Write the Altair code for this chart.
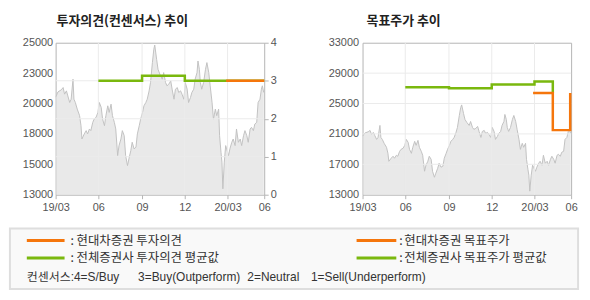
import altair as alt
import pandas as pd

# ---------------- data ----------------
START = "2019-03-02"
END = "2020-05-19"

# days since START and closing price
price_day = [0, 5, 12, 16, 19, 23, 26, 30, 33, 37,
             39, 42, 46, 51, 54, 56, 61, 65, 68, 72,
             75, 79, 82, 86, 90, 93, 97, 100, 104, 107,
             111, 114, 118, 121, 125, 128, 132, 135, 139, 142,
             146, 149, 153, 156, 160, 163, 167, 171, 174, 178,
             181, 185, 188, 192, 195, 199, 202, 206, 209, 211,
             215, 218, 222, 227, 230, 234, 237, 241, 245, 248,
             252, 255, 259, 262, 266, 269, 273, 276, 280, 283,
             287, 290, 294, 297, 301, 303, 306, 308, 311, 315,
             319, 322, 326, 329, 333, 336, 340, 343, 347, 349,
             352, 354, 356, 359, 362, 364, 368, 371, 375, 378,
             382, 385, 389, 393, 396, 400, 403, 407, 410, 414,
             417, 421, 424, 428, 431, 435, 438, 440, 443]
price_value = [20700, 21120, 21280, 21460, 20940, 21200, 20800, 20280, 20540, 22120,
               20540, 20280, 19760, 19240, 18450, 17400, 17800, 18060, 17800, 18190,
               18060, 18710, 18970, 19100, 19500, 20280, 19900, 18970, 18450, 19240,
               20020, 19500, 20150, 19240, 18710, 18190, 16090, 16880, 17400, 18060,
               17660, 16090, 15300, 15830, 16480, 17140, 16620, 16750, 17800, 18450,
               18970, 19500, 20020, 20280, 20540, 21200, 21860, 23430, 24480, 24820,
               23690, 22900, 22510, 22120, 22640, 21860, 21600, 21730, 21990, 21330,
               20540, 21330, 21460, 21070, 21200, 20940, 20540, 21860, 21330, 20280,
               20670, 21070, 21330, 22120, 22640, 23560, 22900, 21860, 21330, 21860,
               22900, 23430, 22640, 21600, 20280, 18970, 19760, 19240, 19760, 17660,
               16350, 15570, 13470, 15570, 16880, 16620, 16090, 16620, 17140, 17400,
               16880, 18190, 17140, 17400, 16880, 17660, 18060, 17660, 17140, 18190,
               18320, 18060, 18580, 18710, 20280, 20540, 21330, 21600, 21070]

tick_dates = ["2019-03-02", "2019-06-01", "2019-09-02", "2019-12-02", "2020-03-02", "2020-05-19"]
tick_labels = ["19/03", "06", "09", "12", "20/03", "06"]
grid_dates = ["2019-06-01", "2019-09-02", "2019-12-02", "2020-03-02"]

opinion_avg_dates = ["2019-06-01", "2019-09-02", "2019-12-02", "2020-05-19"]
opinion_avg_values = [3.0, 3.13, 3.0, 3.0]
opinion_hd_dates = ["2020-02-28", "2020-05-19"]
opinion_hd_values = [3.0, 3.0]

target_avg_dates = ["2019-06-01", "2019-09-02", "2019-12-02", "2020-03-02", "2020-04-10"]
target_avg_values = [27150, 27000, 27500, 27900, 26400]
target_hd_dates = ["2020-02-28", "2020-04-10", "2020-05-17"]
target_hd_values = [26400, 21500, 26400]

left_price_ticks = [13000, 15400, 17800, 20200, 22600, 25000]
opinion_ticks = [0, 1, 2, 3, 4]
opinion_grid = [1, 2, 3]
right_price_ticks = [13000, 17000, 21000, 25000, 29000, 33000]
right_price_grid = [17000, 21000, 25000, 29000]

title_left = "투자의견(컨센서스) 추이"
title_right = "목표주가 추이"
legend_labels = ["현대차증권 투자의견", "전체증권사 투자의견 평균값",
                 "현대차증권 목표주가", "전체증권사 목표주가 평균값"]
consensus_parts = ["컨센서스:4=S/Buy", "3=Buy(Outperform)", "2=Neutral", "1=Sell(Underperform)"]

# ---------------- style ----------------
ORANGE = "#f5760c"
GREEN = "#7ab80e"
AREA = "#e0e0e0"
AREA_LINE = "#c2c2c2"
GRID = "#ebebeb"
FRAME = "#b4b4b4"
LABEL = "#555555"
TEXT = "#333333"
NUM_FONT = "Liberation Sans"
KR_FONT = "Noto Sans CJK KR"
MIX_FONT = "Liberation Sans, Noto Sans CJK KR"
W, H = 210, 153


def dt(s):
    t = pd.Timestamp(s)
    return alt.DateTime(year=t.year, month=t.month, date=t.day)


def dates(lst):
    return pd.to_datetime(lst)


label_expr = ("[" + ",".join(f"'{l}'" for l in tick_labels) + "][indexof(["
              + ",".join(f"'{d}'" for d in tick_dates)
              + "], timeFormat(datum.value, '%Y-%m-%d'))]")

X = alt.X("date:T", scale=alt.Scale(domain=[dt(START), dt(END)]),
          axis=alt.Axis(values=[dt(d) for d in tick_dates], labelExpr=label_expr,
                        title=None, grid=False, domain=False, ticks=True, tickSize=4,
                        tickColor=FRAME, labelPadding=3, labelFlush=False,
                        labelOverlap=False, labelColor=LABEL, labelFont=NUM_FONT,
                        labelFontSize=11))

price_df = pd.DataFrame({"date": pd.Timestamp(START) + pd.to_timedelta(price_day, unit="D"),
                         "price": price_value})
vgrid_df = pd.DataFrame({"date": dates(grid_dates)})
one = pd.DataFrame({"k": [0]})


def title(text, dx):
    return alt.Title(text, anchor="start", frame="group", font=KR_FONT, fontSize=13,
                     fontWeight="bold", color="#222222", offset=9, dx=dx)


# ---------------- left panel ----------------
Y_left_price = alt.Y("price:Q", scale=alt.Scale(domain=[13000, 25000], zero=False),
                     axis=alt.Axis(values=left_price_ticks,
                                   labelExpr="format(round(datum.value/1000)*1000, 'd')",
                                   orient="left", grid=False, ticks=False, domain=False,
                                   labelPadding=3, title=None, labelColor=LABEL,
                                   labelFont=NUM_FONT, labelFontSize=11))
Y_op = alt.Y("opinion:Q", scale=alt.Scale(domain=[0, 4]),
             axis=alt.Axis(values=opinion_ticks, orient="right", grid=False, ticks=True,
                           tickSize=4, tickColor=FRAME, domain=False, labelPadding=2,
                           title=None, labelColor=LABEL, labelFont=NUM_FONT,
                           labelFontSize=11))

# invisible layout anchor: fixes the left edge and the gap to the legend box
anchor = alt.Chart(one).mark_rect(opacity=0).encode(
    x=alt.value(-46), x2=alt.value(-45), y=alt.value(0), y2=alt.value(184))

area_left = alt.Chart(price_df).mark_area(
    color=AREA, line=alt.OverlayMarkDef(color=AREA_LINE, strokeWidth=1), clip=True
).encode(x=X, y=Y_left_price)

vgrid = alt.Chart(vgrid_df).mark_rule(color=GRID, strokeWidth=1).encode(x=X)

hgrid_left = alt.Chart(pd.DataFrame({"opinion": opinion_grid})).mark_rule(
    color=GRID, strokeWidth=1).encode(y=Y_op)
op_avg = alt.Chart(pd.DataFrame({"date": dates(opinion_avg_dates), "opinion": opinion_avg_values})
                   ).mark_line(color=GREEN, strokeWidth=2.5, interpolate="step-after").encode(x=X, y=Y_op)
op_hd = alt.Chart(pd.DataFrame({"date": dates(opinion_hd_dates), "opinion": opinion_hd_values})
                  ).mark_line(color=ORANGE, strokeWidth=2.5, interpolate="step-after").encode(x=X, y=Y_op)

left = alt.layer(
    anchor, area_left, vgrid, alt.layer(hgrid_left, op_avg, op_hd)
).resolve_scale(y="independent").properties(width=W, height=H, title=title(title_left, 1))

# ---------------- right panel ----------------
Y_right = alt.Y("price:Q", scale=alt.Scale(domain=[13000, 33000], zero=False),
                axis=alt.Axis(values=right_price_ticks, format="d", orient="left", grid=False,
                              ticks=False, domain=False, labelPadding=4, title=None,
                              labelColor=LABEL, labelFont=NUM_FONT, labelFontSize=11))

area_right = alt.Chart(price_df).mark_area(
    color=AREA, line=alt.OverlayMarkDef(color=AREA_LINE, strokeWidth=1), clip=True
).encode(x=X, y=Y_right)
hgrid_right = alt.Chart(pd.DataFrame({"price": right_price_grid})).mark_rule(
    color=GRID, strokeWidth=1).encode(y=Y_right)
tp_avg = alt.Chart(pd.DataFrame({"date": dates(target_avg_dates), "price": target_avg_values})
                   ).mark_line(color=GREEN, strokeWidth=2.5, interpolate="step-after").encode(x=X, y=Y_right)
tp_hd = alt.Chart(pd.DataFrame({"date": dates(target_hd_dates), "price": target_hd_values})
                  ).mark_line(color=ORANGE, strokeWidth=2.5, interpolate="step-after").encode(x=X, y=Y_right)

right = alt.layer(area_right, vgrid, hgrid_right, tp_avg, tp_hd).properties(
    width=W, height=H, title=title(title_right, 4))

# ---------------- legend box ----------------
legend_layers = [
    alt.Chart(one).mark_rect(fill="#f9f9f9", stroke="#dedede", strokeWidth=2).encode(
        x=alt.value(-46), x2=alt.value(526), y=alt.value(0), y2=alt.value(61))
]
col_line = [(-29, 9), (303, 343)]
col_colon = [15, 346]
col_text = [21, 351]
row_y = [12, 29.7]
colors = [ORANGE, GREEN, ORANGE, GREEN]
for i, lab in enumerate(legend_labels):
    c, r = i // 2, i % 2
    legend_layers.append(alt.Chart(one).mark_rule(color=colors[i], strokeWidth=3).encode(
        x=alt.value(col_line[c][0]), x2=alt.value(col_line[c][1]), y=alt.value(row_y[r])))
    legend_layers.append(alt.Chart(one).mark_text(
        text=":", align="left", baseline="middle", font=KR_FONT, fontSize=12.5, color=TEXT
    ).encode(x=alt.value(col_colon[c]), y=alt.value(row_y[r] + 0.3)))
    legend_layers.append(alt.Chart(one).mark_text(
        text=lab, align="left", baseline="middle", font=KR_FONT, fontSize=12.5, color=TEXT
    ).encode(x=alt.value(col_text[c]), y=alt.value(row_y[r] + 0.5)))
cons_x = [-29, 83, 193, 257]
for txt, xx in zip(consensus_parts, cons_x):
    legend_layers.append(alt.Chart(one).mark_text(
        text=txt, align="left", baseline="middle", font=MIX_FONT, fontSize=12, color=TEXT
    ).encode(x=alt.value(xx), y=alt.value(49.3)))

legend = alt.layer(*legend_layers).properties(
    width=470, height=61, view=alt.ViewBackground(stroke="transparent"))

row = alt.hconcat(left, right, spacing=99, bounds="flush")
chart = alt.vconcat(row, legend, spacing=0).properties(
    padding={"left": 8, "top": 13, "right": 10, "bottom": 11}
).configure_view(stroke=FRAME, strokeWidth=1)

chart.save("out.html", embed_options={"renderer": "svg", "actions": False})
